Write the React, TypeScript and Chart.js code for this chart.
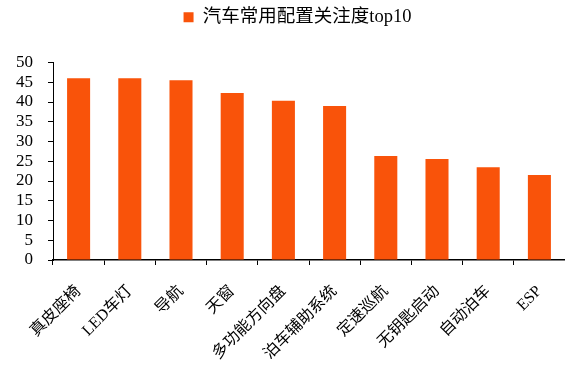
import React, { useEffect, useRef } from "react";
import { Chart, registerables } from "chart.js";

Chart.register(...registerables);

const categories = ["真皮座椅", "LED车灯", "导航", "天窗", "多功能方向盘", "泊车辅助系统", "定速巡航", "无钥匙启动", "自动泊车", "ESP"];
const values = [46.0, 46.0, 45.5, 42.3, 40.3, 39.0, 26.3, 25.6, 23.5, 21.5];
const seriesName = "汽车常用配置关注度top10";
const yMin = 0;
const yMax = 50;
const yStep = 5;

const FONT = "'Liberation Serif', 'Noto Sans CJK SC', serif";

const legendSpacer = {
  id: "legendSpacer",
  beforeInit(chart: any) {
    const lg = chart.legend;
    if (!lg) return;
    const origFit = lg.fit;
    lg.fit = function () {
      origFit.call(this);
      this.height += 26;
    };
    const origDraw = lg.draw;
    lg.draw = function (...args: any[]) {
      const c = this.ctx;
      c.save();
      c.translate(15, 0);
      origDraw.apply(this, args);
      c.restore();
    };
  },
};

export default function App() {
  const ref = useRef<HTMLCanvasElement | null>(null);
  useEffect(() => {
    document.body.style.margin = "0";
    const ctx = ref.current!;
    const chart = new Chart(ctx, {
      type: "bar",
      data: {
        labels: categories,
        datasets: [
          {
            label: seriesName,
            data: values,
            backgroundColor: "#F9530A",
            borderWidth: 0,
            categoryPercentage: 0.9,
            barPercentage: 0.5,
          },
        ],
      },
      plugins: [legendSpacer],
      options: {
        animation: false,
        responsive: false,
        maintainAspectRatio: false,
        devicePixelRatio: 1,
        layout: { padding: { top: 2, left: 0, right: 0, bottom: 0 } },
        plugins: {
          legend: {
            display: true,
            position: "top",
            labels: {
              boxWidth: 10,
              boxHeight: 10,
              color: "#000",
              padding: 6,
              font: { family: FONT, size: 18.5 },
            },
          },
          tooltip: { enabled: false },
        },
        scales: {
          x: {
            grid: {
              display: true,
              drawOnChartArea: false,
              drawTicks: true,
              tickLength: 5,
              color: "#000",
              offset: true,
            },
            border: { display: true, color: "#000", width: 1.5 },
            ticks: {
              color: "#000",
              maxRotation: 45,
              minRotation: 45,
              autoSkip: false,
              padding: 17,
              font: { family: FONT, size: 16 },
            },
            afterFit: (s: any) => {
              s.height = 109;
              s.paddingLeft = 0;
              s.paddingRight = 0;
            },
          },
          y: {
            min: yMin,
            max: yMax,
            grid: {
              display: true,
              drawOnChartArea: false,
              drawTicks: true,
              tickLength: 5,
              color: "#000",
            },
            border: { display: true, color: "#000", width: 1 },
            ticks: {
              stepSize: yStep,
              autoSkip: false,
              color: "#000",
              padding: 15,
              font: { family: FONT, size: 17 },
            },
            afterFit: (s: any) => {
              s.width = 53;
            },
          },
        },
      },
    });
    return () => chart.destroy();
  }, []);
  return (
    <div style={{ position: "absolute", left: 0, top: 0, width: 565, height: 369 }}>
      <canvas ref={ref} width={565} height={369} style={{ width: 565, height: 369 }} />
    </div>
  );
}
